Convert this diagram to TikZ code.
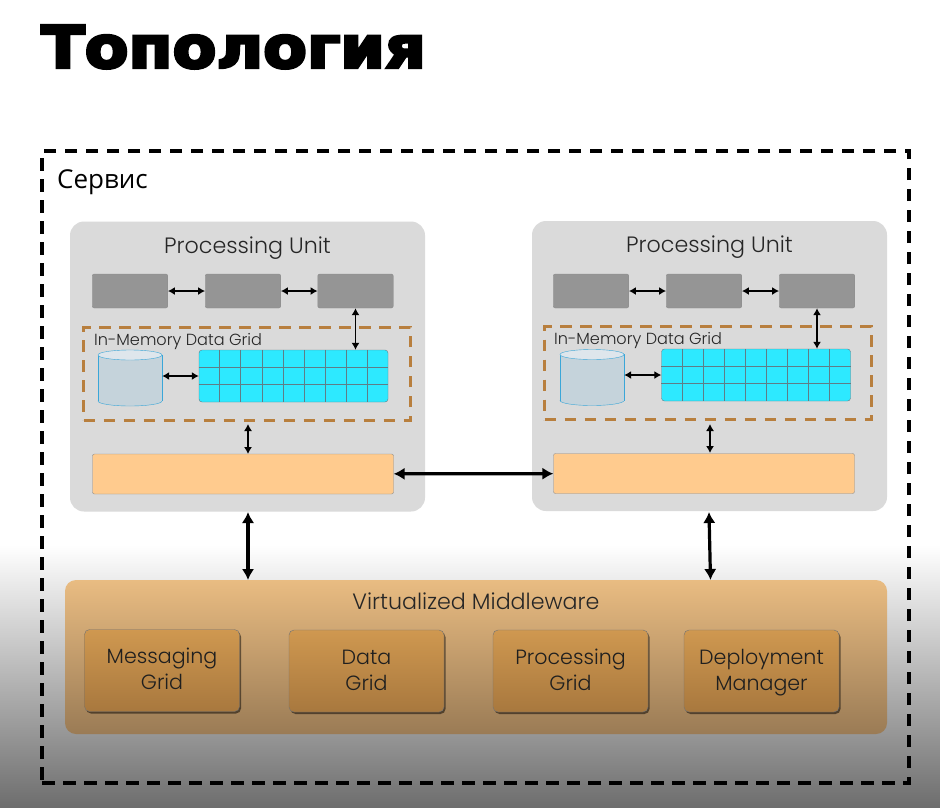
\documentclass[tikz,border=0pt]{standalone}
\usepackage{fontspec}
\setmainfont{Poppins}[UprightFont=* Light]
\newfontfamily\ruslabel{Open Sans}
\newfontfamily\rustitle{DejaVu Sans}[FakeBold=5,FakeStretch=1.1,UprightFont=* Bold]
\definecolor{unitgray}{RGB}{218,218,218}
\definecolor{workgray}{RGB}{149,149,149}
\definecolor{busorange}{RGB}{255,203,142}
\definecolor{gridcyan}{RGB}{45,233,255}
\definecolor{gridrule}{RGB}{95,125,135}
\definecolor{dbfill}{RGB}{197,211,219}
\definecolor{dbtop}{RGB}{222,230,236}
\definecolor{dbline}{RGB}{58,166,216}
\definecolor{membrown}{RGB}{184,127,62}
\definecolor{gridtop}{RGB}{207,152,80}
\definecolor{gridbottom}{RGB}{168,120,62}
\definecolor{waretop}{RGB}{233,188,130}
\definecolor{warebottom}{RGB}{154,123,85}
\usetikzlibrary{arrows.meta,calc,shadows,shapes.geometric}

\begin{document}
\begin{tikzpicture}[x=1pt,y=-1pt,
        unit/.style={fill=unitgray,rounded corners=14pt,minimum width=355pt,minimum height=290pt,inner sep=0pt},
        unitlabel/.style={font=\fontsize{22.2}{26}\selectfont,text=black!85},
        work/.style={draw=black!45,fill=workgray,rounded corners=2pt,minimum width=75.5pt,minimum height=34pt,inner sep=0pt},
        mem/.style={draw=membrown,line width=3pt,dash pattern=on 11.5pt off 8.5pt,minimum width=327pt,minimum height=93pt,inner sep=0pt},
        memlabel/.style={font=\fontsize{16.1}{19}\selectfont,text=black!85,anchor=west,inner sep=0pt},
        cellgrid/.style={draw=gridrule,fill=gridcyan,rounded corners=3pt,minimum width=189pt,minimum height=52pt,inner sep=0pt},
        cellline/.style={draw=gridrule,line width=0.8pt},
        dbbody/.style={fill=dbfill,minimum width=64pt,minimum height=46pt,inner sep=0pt},
        dbend/.style={ellipse,draw=dbline,fill=dbfill,minimum width=64pt,minimum height=10pt,inner sep=0pt},
        dbedge/.style={draw=dbline},
        bus/.style={draw=black!45,fill=busorange,rounded corners=2pt,minimum width=301pt,minimum height=40pt,inner sep=0pt},
        ware/.style={top color=waretop,bottom color=warebottom,rounded corners=11pt,
                     minimum width=822pt,minimum height=154pt,inner sep=0pt},
        gridbox/.style={draw=black!55,top color=gridtop,bottom color=gridbottom,rounded corners=5pt,
                        minimum width=155pt,minimum height=82pt,inner sep=0pt,align=center,text depth=6pt,
                        font=\fontsize{20.6}{26}\selectfont,text=black!88,
                        drop shadow={shadow xshift=1.5pt,shadow yshift=-2pt,opacity=0.5,fill=black}},
        arr/.style={{Latex[length=7pt,width=8pt]}-{Latex[length=7pt,width=8pt]},line width=1.2pt},
        bigarr/.style={{Latex[length=11pt,width=12.5pt]}-{Latex[length=11pt,width=12.5pt]},line width=3.2pt}]
        \useasboundingbox (0,0) rectangle (940,807);
        \fill[white] (0,0) rectangle (940,545);
        \fill[top color=white,bottom color=black!57] (0,545) rectangle (940,807);
        \node[font=\rustitle\fontsize{58}{66}\selectfont,anchor=west,inner sep=0pt] (title) at (41,47) {Топология};
        \node[draw,line width=3.1pt,dash pattern=on 12.5pt off 8.5pt,minimum width=867pt,minimum height=632pt,inner sep=0pt] (service) at (475.5,467) {};
        \node[font=\ruslabel\fontsize{26}{30}\selectfont,anchor=west,inner sep=0pt] (servicelabel) at (57,182) {Сервис};

        \node[unit] (pu1) at (247.5,366.5) {};
        \node[unitlabel] (pu1label) at (247.5,248.5) {Processing Unit};
        \node[work] (w11) at (130,291) {};
        \node[work] (w12) at (243,291) {};
        \node[work] (w13) at (355.5,291) {};
        \node[mem] (mem1) at (247,373.5) {};
        \node[memlabel] (mem1label) at (94,341.5) {In-Memory Data Grid};
        \node[dbend] (db1bottom) at (130,401) {};
        \node[dbbody] (db1) at (130,378) {};
        \draw[dbedge] (db1.north west) -- (db1.south west);
        \draw[dbedge] (db1.north east) -- (db1.south east);
        \node[dbend,fill=dbtop] (db1top) at (130,355) {};
        \node[cellgrid] (g1) at (293.5,376) {};
        \foreach \i in {1,...,8}
          \draw[cellline] ($(g1.north west)!\i/9!(g1.north east)$) -- ($(g1.south west)!\i/9!(g1.south east)$);
        \foreach \i in {1,2}
          \draw[cellline] ($(g1.north west)!\i/3!(g1.south west)$) -- ($(g1.north east)!\i/3!(g1.south east)$);
        \node[bus] (b1) at (243,474) {};
        \coordinate (m1out) at (248,424);
        \coordinate (b1in) at (248,454);
        \draw[arr] (w11) -- (w12);
        \draw[arr] (w12) -- (w13);
        \draw[arr] (w13.south) -- (w13.south |- g1.north);
        \draw[arr] (db1.east |- g1.west) -- (g1.west);
        \draw[arr] (m1out) -- (b1in);

        \node[unit] (pu2) at (709.5,366) {};
        \node[unitlabel] (pu2label) at (709.5,247.5) {Processing Unit};
        \node[work] (w21) at (591,291) {};
        \node[work] (w22) at (704,291) {};
        \node[work] (w23) at (817,291) {};
        \node[mem] (mem2) at (708,373) {};
        \node[memlabel] (mem2label) at (554,340.5) {In-Memory Data Grid};
        \node[dbend] (db2bottom) at (592,400.5) {};
        \node[dbbody] (db2) at (592,377.5) {};
        \draw[dbedge] (db2.north west) -- (db2.south west);
        \draw[dbedge] (db2.north east) -- (db2.south east);
        \node[dbend,fill=dbtop] (db2top) at (592,354.5) {};
        \node[cellgrid] (g2) at (756,375) {};
        \foreach \i in {1,...,8}
          \draw[cellline] ($(g2.north west)!\i/9!(g2.north east)$) -- ($(g2.south west)!\i/9!(g2.south east)$);
        \foreach \i in {1,2}
          \draw[cellline] ($(g2.north west)!\i/3!(g2.south west)$) -- ($(g2.north east)!\i/3!(g2.south east)$);
        \node[bus] (b2) at (704,473.5) {};
        \coordinate (m2out) at (710,424);
        \coordinate (b2in) at (710,453);
        \draw[arr] (w21) -- (w22);
        \draw[arr] (w22) -- (w23);
        \draw[arr] (w23.south) -- (w23.south |- g2.north);
        \draw[arr] (db2.east |- g2.west) -- (g2.west);
        \draw[arr] (m2out) -- (b2in);

        \draw[bigarr] (b1) -- (b2);

        \node[ware] (vm) at (476,657) {};
        \node[unitlabel] (vmlabel) at (476,601) {Virtualized Middleware};
        \node[gridbox] (msg) at (162,670.5) {Messaging\strut\\Grid\strut};
        \node[gridbox] (data) at (366.5,671) {Data\strut\\Grid\strut};
        \node[gridbox] (proc) at (570.5,671) {Processing\strut\\Grid\strut};
        \node[gridbox] (deploy) at (761.5,671) {Deployment\strut\\Manager\strut};
        \coordinate (pu1out) at (248,512);
        \coordinate (vm1in) at (248,580);
        \coordinate (pu2out) at (709,512);
        \coordinate (vm2in) at (710.5,580);
        \draw[bigarr] (pu1out) -- (vm1in);
        \draw[bigarr] (pu2out) -- (vm2in);
      \end{tikzpicture}
\end{document}
